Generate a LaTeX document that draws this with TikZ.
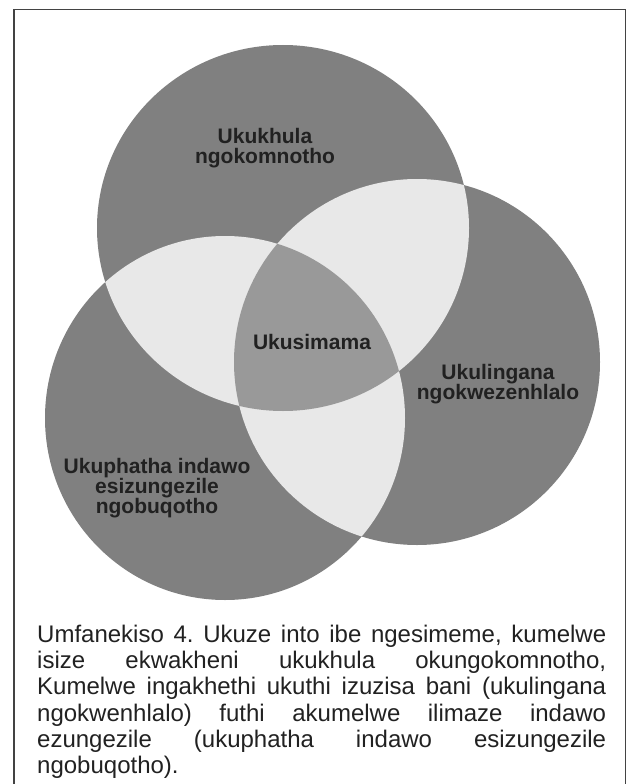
\documentclass[tikz,border=0pt]{standalone}
\usepackage{fontspec}
\setmainfont{Liberation Sans}
\definecolor{ringgray}{gray}{0.5}
\definecolor{pairgray}{gray}{0.91}
\definecolor{coregray}{gray}{0.6}
\definecolor{inkgray}{gray}{0.13}
\begin{document}
\begin{tikzpicture}[x=1pt, y=-1pt,
  ringlabel/.style={font=\bfseries\fontsize{21}{20}\selectfont, text=inkgray, align=center, inner sep=0pt}]
   \useasboundingbox (0,0) rectangle (632,784);
   \draw[line width=1.3pt, inkgray!85] (14,784) -- (14,9.5) -- (625.5,9.5) -- (625.5,784);
   \fill[ringgray] (283,228) ellipse [x radius=186pt, y radius=183pt];
   \fill[ringgray] (417,362) ellipse [x radius=183pt, y radius=183pt];
   \fill[ringgray] (225,418) ellipse [x radius=180pt, y radius=182pt];
   \begin{scope}
    \clip (283,228) ellipse [x radius=186pt, y radius=183pt];
    \fill[pairgray] (417,362) ellipse [x radius=183pt, y radius=183pt];
    \fill[pairgray] (225,418) ellipse [x radius=180pt, y radius=182pt];
   \end{scope}
   \begin{scope}
    \clip (417,362) ellipse [x radius=183pt, y radius=183pt];
    \fill[pairgray] (225,418) ellipse [x radius=180pt, y radius=182pt];
    \clip (225,418) ellipse [x radius=180pt, y radius=182pt];
    \fill[coregray] (283,228) ellipse [x radius=186pt, y radius=183pt];
   \end{scope}
   \node[ringlabel] (growth) at (265,148) {Ukukhula\\ngokomnotho};
   \node[ringlabel] (core) at (312,342) {Ukusimama};
   \node[ringlabel] (fairness) at (498,384) {Ukulingana\\ngokwezenhlalo};
   \node[ringlabel] (care) at (157,488) {Ukuphatha indawo\\esizungezile\\ngobuqotho};
   \node[anchor=north west, inner sep=0pt, text width=569pt, align=justify, text=inkgray,
     font=\fontsize{24}{26.2}\selectfont] (caption) at (37,625)
     {\frenchspacing\hyphenpenalty=10000 \tolerance=10000
      Umfanekiso 4. Ukuze into ibe ngesimeme, kumelwe\linebreak
      isize ekwakheni ukukhula okungokomnotho,\linebreak
      Kumelwe ingakhethi ukuthi izuzisa bani (ukulingana\linebreak
      ngokwenhlalo) futhi akumelwe ilimaze indawo\linebreak
      ezungezile (ukuphatha indawo esizungezile\linebreak
      ngobuqotho).};
  \end{tikzpicture}
\end{document}
